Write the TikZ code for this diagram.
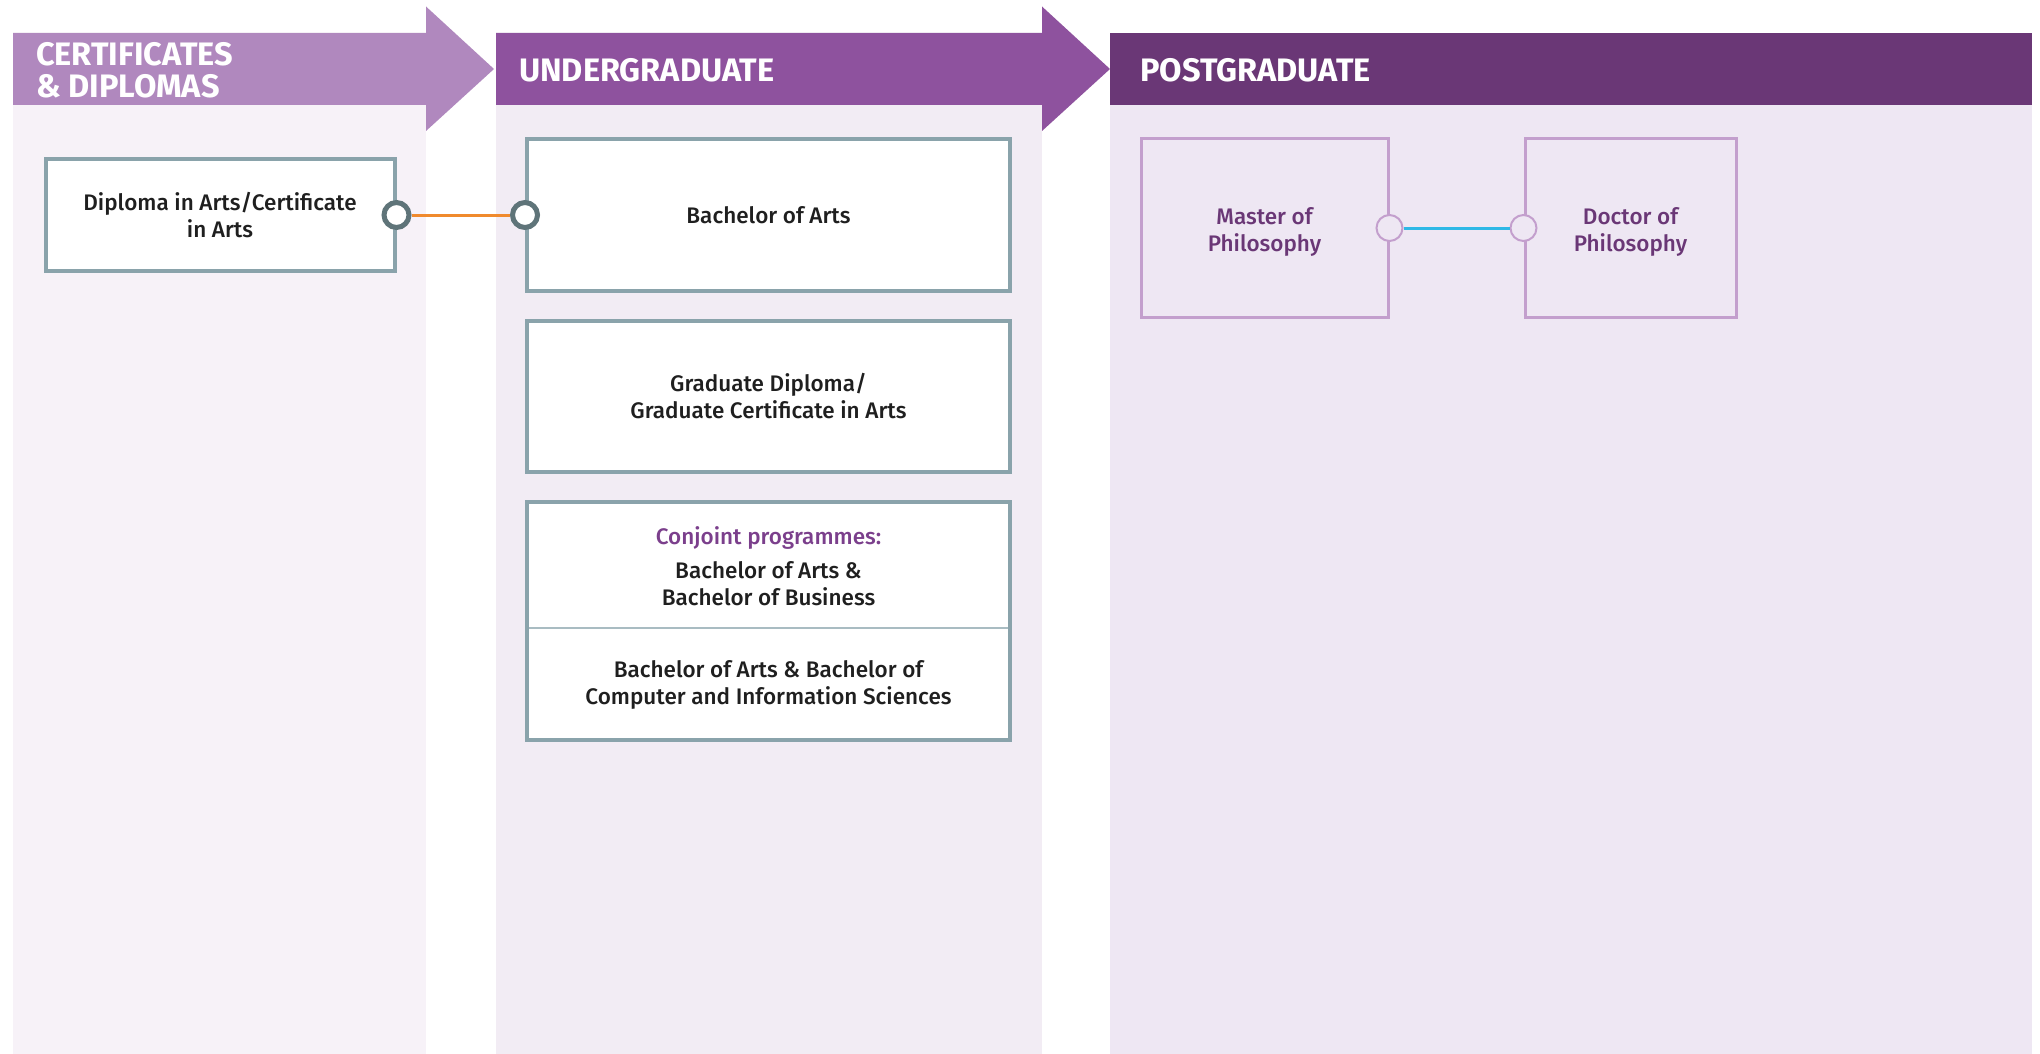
\documentclass[tikz,border=0pt]{standalone}
\usepackage{fontspec}
\setmainfont{Fira Sans}
\newfontfamily\medfont{Fira Sans Medium}
\definecolor{hdA}{HTML}{B088BE}
\definecolor{hdB}{HTML}{8E529E}
\definecolor{hdC}{HTML}{6A3776}
\definecolor{bgA}{HTML}{F7F2F8}
\definecolor{bgB}{HTML}{F2ECF4}
\definecolor{bgC}{HTML}{EEE7F3}
\definecolor{boxgrey}{HTML}{8AA3AB}
\definecolor{dotgrey}{HTML}{5F7479}
\definecolor{boxpurple}{HTML}{C39FCD}
\definecolor{txtpurple}{HTML}{6A3776}
\definecolor{conjpurple}{HTML}{7B3F8C}
\definecolor{linkorange}{HTML}{F08A2D}
\definecolor{linkblue}{HTML}{2EB8E6}
\definecolor{divgrey}{HTML}{A9BCC2}
\begin{document}
\begin{tikzpicture}[x=1pt,y=-1pt,
  hdtext/.style={text=white,font=\bfseries\fontsize{32.5}{32}\selectfont,align=left,anchor=west,inner sep=0pt},
  ugbox/.style={draw=boxgrey,line width=4pt,fill=white,inner sep=0pt,align=center,
     font=\medfont\fontsize{22.5}{27}\selectfont,text=black!88},
  pgbox/.style={draw=boxpurple,line width=3pt,fill=bgC,inner sep=0pt},
  txt/.style={inner sep=0pt,align=center,font=\medfont\fontsize{22.5}{27}\selectfont,text=black!88},
  greydot/.style={circle,draw=dotgrey,line width=5pt,fill=white,minimum size=25pt,inner sep=0pt},
  purpdot/.style={circle,draw=boxpurple,line width=2pt,fill=bgC,minimum size=26pt,inner sep=0pt}
]
\useasboundingbox (0,0) rectangle (2040,1054);
\fill[white] (0,0) rectangle (2040,1054);
% panels
\fill[bgA] (13,105) rectangle (426,1054);
\fill[bgB] (496,105) rectangle (1042,1054);
\fill[bgC] (1110,105) rectangle (2032,1054);
% headers
\fill[hdA] (13,33) -- (426,33) -- (426,6.5) -- (494,69) -- (426,131) -- (426,105) -- (13,105) -- cycle;
\fill[hdB] (496,33) -- (1042,33) -- (1042,6.5) -- (1110,69) -- (1042,131) -- (1042,105) -- (496,105) -- cycle;
\fill[hdC] (1110,33) rectangle (2032,105);
\node[hdtext] (hA) at (36,70) {CERTIFICATES\\\& DIPLOMAS};
\node[hdtext] (hB) at (519,70) {UNDERGRADUATE};
\node[hdtext] (hC) at (1140,70) {POSTGRADUATE};
% boxes
\node[ugbox,minimum width=349pt,minimum height=112pt] (dip) at (220,215) {Diploma in Arts/Certificate\\in Arts};
\node[ugbox,minimum width=483pt,minimum height=152pt] (ba) at (768.5,215) {Bachelor of Arts};
\node[ugbox,minimum width=483pt,minimum height=151pt] (gd) at (768.5,396.5) {Graduate Diploma/\\Graduate Certificate in Arts};
\node[ugbox,minimum width=483pt,minimum height=238pt] (cj) at (768.5,621) {};
\coordinate (cjdl) at (529,628);
\coordinate (cjdr) at (1008,628);
\draw[divgrey,line width=1.5pt] (cjdl) -- (cjdr);
\node[txt,text=conjpurple] (cjt) at (768.5,538) {Conjoint programmes:};
\node[txt] (cj1) at (768.5,584) {Bachelor of Arts \&\\Bachelor of Business};
\node[txt] (cj2) at (768.5,685) {Bachelor of Arts \& Bachelor of\\Computer and Information Sciences};
\node[pgbox,minimum width=247pt,minimum height=178pt] (mp) at (1264.5,228) {};
\node[pgbox,minimum width=211pt,minimum height=178pt] (dp) at (1630.5,228) {};
\node[txt,text=txtpurple] (mpt) at (1264.5,232) {Master of\\Philosophy};
\node[txt,text=txtpurple] (dpt) at (1630.5,232) {Doctor of\\Philosophy};
% connectors
\node[greydot] (d1) at (dip.east) {};
\node[greydot] (d2) at (ba.west) {};
\draw[linkorange,line width=3pt] (d1) -- (d2);
\node[purpdot] (d3) at (mp.east) {};
\node[purpdot] (d4) at (dp.west) {};
\draw[linkblue,line width=3pt] (d3) -- (d4);
\end{tikzpicture}
\end{document}
